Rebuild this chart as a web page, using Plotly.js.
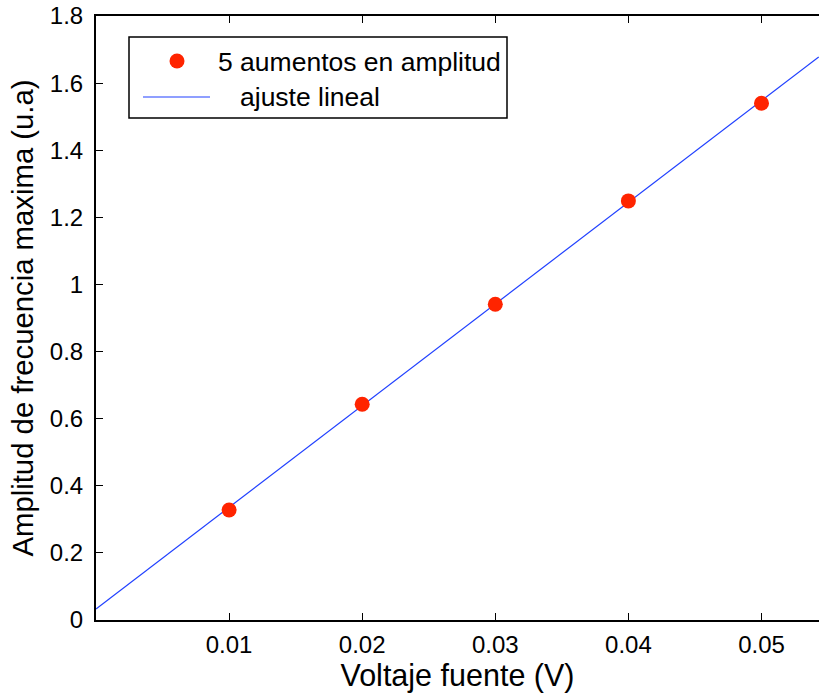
<!DOCTYPE html>
<html>
<head>
<meta charset="utf-8">
<script src="https://cdn.plot.ly/plotly-3.0.1.min.js"></script>
<style>html,body{margin:0;padding:0;background:#fff;overflow:hidden}#chart{width:819px;height:693px}</style>
</head>
<body>
<div id="chart"></div>
<script>
// Data
const voltaje = [0.01, 0.02, 0.03, 0.04, 0.05];
const amplitud = [0.328, 0.643, 0.941, 1.249, 1.540];
const ajusteX = [0, 0.0543];
const ajusteY = [0.033, 1.678];
const xTicks = [0.01, 0.02, 0.03, 0.04, 0.05];
const xTickText = ['0.01', '0.02', '0.03', '0.04', '0.05'];
const yTicks = [0, 0.2, 0.4, 0.6, 0.8, 1, 1.2, 1.4, 1.6, 1.8];
const yTickText = ['0', '0.2', '0.4', '0.6', '0.8', '1', '1.2', '1.4', '1.6', '1.8'];
const legendNames = ['5 aumentos en amplitud', 'ajuste lineal'];

const FONT = 'Liberation Sans, Arial, Helvetica, sans-serif';
const markerColor = '#ff2400';
const lineColor = '#2040ff';

const traces = [
  {x: ajusteX, y: ajusteY, mode: 'lines', name: legendNames[1],
   line: {color: lineColor, width: 1.2}, showlegend: false, hoverinfo: 'skip'},
  {x: voltaje, y: amplitud, mode: 'markers', name: legendNames[0],
   marker: {color: markerColor, size: 15, line: {width: 0}}, showlegend: false}
];

// plot area in px: left 96, right 819, top 16, bottom 620
const L = 96, R = 819, T = 16, B = 620;
const px = v => (v - L) / (R - L);
const py = v => (B - v) / (B - T);

const layout = {
  width: 819, height: 693,
  margin: {l: L, r: 819 - R, t: T, b: 693 - B, pad: 0},
  paper_bgcolor: '#fff', plot_bgcolor: '#fff',
  font: {family: FONT, color: '#000', size: 24},
  showlegend: false,
  xaxis: {
    range: [0, 0.05432], tickvals: xTicks, ticktext: xTickText,
    ticks: 'inside', ticklen: 7, tickwidth: 1.2, tickcolor: '#000',
    showline: true, linecolor: '#000', linewidth: 2, mirror: 'ticks',
    showgrid: false, zeroline: false,
    tickfont: {family: FONT, size: 24, color: '#000'},
    ticklabelstandoff: 2,
    title: {text: 'Voltaje fuente (V)', font: {family: FONT, size: 30.5, color: '#000'}, standoff: 6}
  },
  yaxis: {
    range: [0, 1.8], tickvals: yTicks, ticktext: yTickText,
    ticks: 'inside', ticklen: 7, tickwidth: 1.2, tickcolor: '#000',
    showline: true, linecolor: '#000', linewidth: 2, mirror: false,
    showgrid: false, zeroline: false,
    tickfont: {family: FONT, size: 24, color: '#000'},
    ticklabelstandoff: 6,
    title: {text: 'Amplitud de frecuencia maxima (u.a)', font: {family: FONT, size: 29.3, color: '#000'}, standoff: 8}
  },
  shapes: [
    {type: 'rect', xref: 'paper', yref: 'paper', x0: px(129), x1: px(507), y0: py(118), y1: py(37),
     line: {color: '#000', width: 1.5}, fillcolor: '#fff', layer: 'above'},
    {type: 'line', xref: 'paper', yref: 'paper', x0: px(143), x1: px(210), y0: py(97), y1: py(97),
     line: {color: lineColor, width: 1.2}, layer: 'above'},
    {type: 'circle', xref: 'paper', yref: 'paper', xsizemode: 'pixel', ysizemode: 'pixel',
     xanchor: px(177), yanchor: py(61), x0: -7.5, x1: 7.5, y0: -7.5, y1: 7.5,
     fillcolor: markerColor, line: {width: 0}, layer: 'above'}
  ],
  annotations: [
    {xref: 'paper', yref: 'paper', x: px(216), y: py(62), xanchor: 'left', yanchor: 'middle',
     text: legendNames[0], showarrow: false, font: {family: FONT, size: 26.5, color: '#000'}},
    {xref: 'paper', yref: 'paper', x: px(238), y: py(97), xanchor: 'left', yanchor: 'middle',
     text: legendNames[1], showarrow: false, font: {family: FONT, size: 26.5, color: '#000'}}
  ]
};

Plotly.newPlot('chart', traces, layout, {displayModeBar: false, staticPlot: true});
</script>
</body>
</html>
